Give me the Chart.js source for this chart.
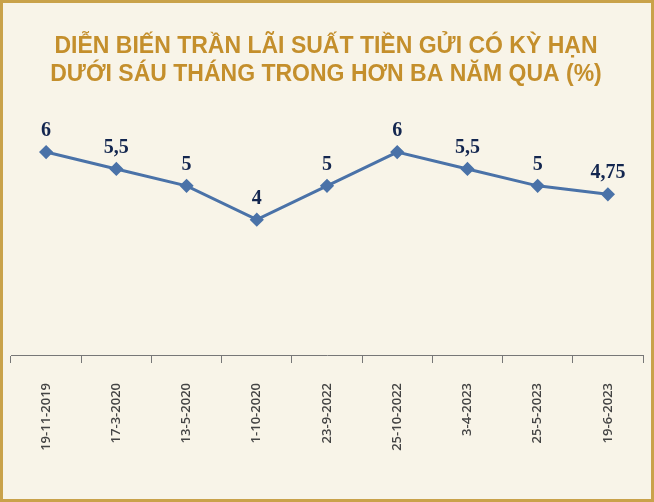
<!DOCTYPE html>
<html><head><meta charset="utf-8">
<script src="https://cdn.jsdelivr.net/npm/chart.js@4"></script>
<style>
html,body{margin:0;padding:0;background:#f8f4e8;}
#wrap{width:654px;height:502px;box-sizing:border-box;border:3px solid #c9a24a;position:relative;background:#f8f4e8;}
canvas{position:absolute;left:0;top:0;}
</style></head><body>
<div id="wrap"><canvas id="c" width="648" height="496"></canvas></div>
<script>
const categories=["19-11-2019","17-3-2020","13-5-2020","1-10-2020","23-9-2022","25-10-2022","3-4-2023","25-5-2023","19-6-2023"];
const rates=[6,5.5,5,4,5,6,5.5,5,4.75];
const titleLines=["DIỄN BIẾN TRẦN LÃI SUẤT TIỀN GỬI CÓ KỲ HẠN","DƯỚI SÁU THÁNG TRONG HƠN BA NĂM QUA (%)"];
const labelPlugin={id:'vl',afterDatasetsDraw(ch){const c=ch.ctx;const m=ch.getDatasetMeta(0);c.save();c.font='bold 20px "Liberation Serif"';c.fillStyle='#13264f';c.textAlign='center';c.textBaseline='bottom';
m.data.forEach((p,i)=>{c.fillText(String(rates[i]).replace('.',','),p.x,p.y-11);});c.restore();}};
new Chart(document.getElementById('c'),{type:'line',
data:{labels:categories,datasets:[{data:rates,borderColor:'#4a72a8',backgroundColor:'#4a72a8',borderWidth:3,pointStyle:'rectRot',pointRadius:5,pointHoverRadius:5,tension:0}]},
options:{responsive:false,animation:false,
layout:{padding:{left:3,right:5,top:0,bottom:0}},
plugins:{legend:{display:false},tooltip:{enabled:false},
title:{display:true,text:titleLines,color:'#c48f2c',font:{family:'"Liberation Sans"',size:23,weight:'bold'},lineHeight:1.2,padding:{top:30,bottom:30}}},
scales:{y:{display:false,min:0,max:7},
x:{offset:true,afterFit(s){s.height=144;},grid:{display:true,drawOnChartArea:false,offset:true,color:'#777',tickLength:8,tickWidth:1},border:{color:'#777',width:1},
ticks:{maxRotation:90,minRotation:90,color:'#444',font:{family:'"Open Sans"',size:13,weight:'600'},padding:20}}}},
plugins:[labelPlugin]});
</script></body></html>
